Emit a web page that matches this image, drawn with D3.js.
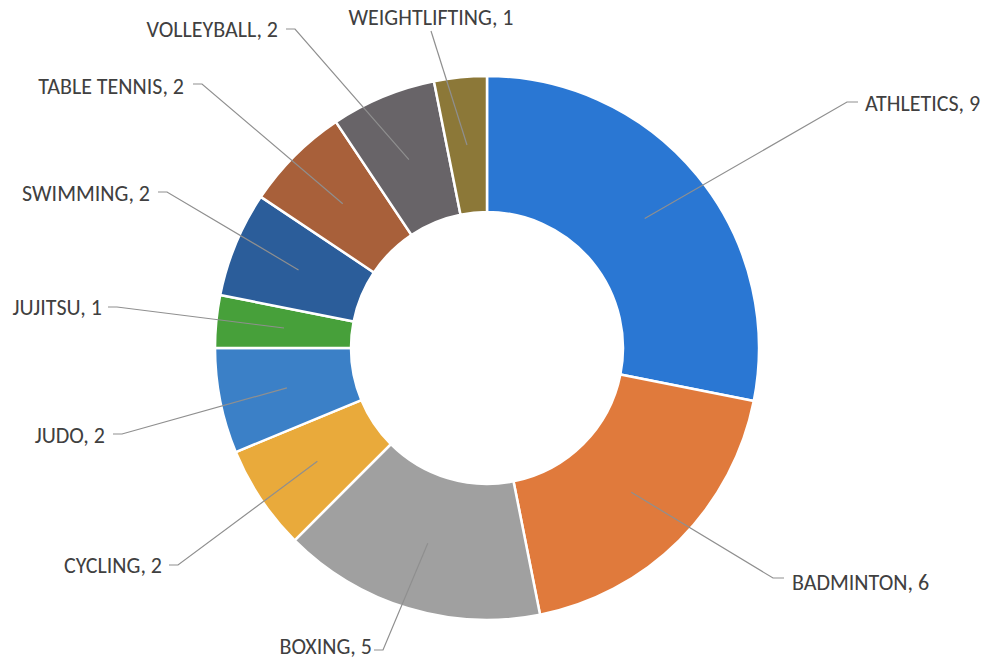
<!DOCTYPE html>
<html>
<head>
<meta charset="utf-8">
<script src="https://cdn.jsdelivr.net/npm/d3@7"></script>
<style>
  html, body { margin: 0; padding: 0; background: #ffffff; }
  svg { display: block; }
  .label { font-family: Carlito, Calibri, "Open Sans", sans-serif; font-size: 22px; fill: #404040; }
</style>
</head>
<body>
<svg id="chart" width="988" height="665"></svg>
<script>
// Athletes per sport
const sports = ["ATHLETICS", "BADMINTON", "BOXING", "CYCLING", "JUDO", "JUJITSU",
                "SWIMMING", "TABLE TENNIS", "VOLLEYBALL", "WEIGHTLIFTING"];
const athletes = [9, 6, 5, 2, 2, 1, 2, 2, 2, 1];

// Slice colours, in sport order
const sliceColors = ["#2a77d3", "#e07a3c", "#a0a0a0", "#e9aa3b", "#3b80c7",
                     "#47a03a", "#2b5d9a", "#a8603a", "#686468", "#8c7838"];

// Label placement: elbow of the leader line, text anchor point and side
const labelLayout = [
  { ex: 847, ey: 102, tx: 865, ty: 103, side: "right" },
  { ex: 773, ey: 578, tx: 792, ty: 582, side: "right" },
  { ex: 383, ey: 650, tx: 372, ty: 646, side: "left" },
  { ex: 178, ey: 565, tx: 162, ty: 565, side: "left" },
  { ex: 122, ey: 434, tx: 105, ty: 435, side: "left" },
  { ex: 117, ey: 307, tx: 102, ty: 307, side: "left" },
  { ex: 167, ey: 192, tx: 150, ty: 193, side: "left" },
  { ex: 202, ey: 84,  tx: 184, ty: 86,  side: "left" },
  { ex: 295, ey: 29,  tx: 278, ty: 29,  side: "left" },
  { ex: 431, ey: 31,  tx: 431, ty: 17,  side: "top" }
];

const cx = 487, cy = 348;
const outerR = 272, innerR = 136, leaderR = 204;

const svg = d3.select("#chart");
const g = svg.append("g").attr("transform", `translate(${cx},${cy})`);

const data = sports.map((s, i) => ({ sport: s, value: athletes[i], index: i }));

const pie = d3.pie().value(d => d.value).sort(null).startAngle(0).endAngle(2 * Math.PI);
const arcs = pie(data);

const arc = d3.arc().innerRadius(innerR).outerRadius(outerR);
const leaderArc = d3.arc().innerRadius(leaderR).outerRadius(leaderR);

const color = d3.scaleOrdinal().domain(sports).range(sliceColors);

g.selectAll("path.slice")
  .data(arcs)
  .join("path")
  .attr("class", "slice")
  .attr("d", arc)
  .attr("fill", d => color(d.data.sport))
  .attr("stroke", "#ffffff")
  .attr("stroke-width", 2.5)
  .attr("stroke-linejoin", "miter");

// Leader lines: from inside the slice to the elbow, then a short horizontal tick
const lines = svg.append("g");
arcs.forEach((d, i) => {
  const L = labelLayout[i];
  const [px, py] = leaderArc.centroid(d);
  const start = [cx + px, cy + py];
  const pts = [start, [L.ex, L.ey]];
  if (L.side === "right") pts.push([L.ex + 11, L.ey]);
  if (L.side === "left") pts.push([L.ex - 9, L.ey]);
  lines.append("path")
    .attr("d", d3.line()(pts))
    .attr("fill", "none")
    .attr("stroke", "#8f8f8f")
    .attr("stroke-width", 1.2);
});

// Data labels
svg.append("g")
  .selectAll("text")
  .data(arcs)
  .join("text")
  .attr("class", "label")
  .attr("x", (d, i) => labelLayout[i].tx)
  .attr("y", (d, i) => labelLayout[i].ty)
  .attr("dy", "0.35em")
  .attr("text-anchor", (d, i) => {
    const s = labelLayout[i].side;
    return s === "right" ? "start" : s === "left" ? "end" : "middle";
  })
  .text(d => `${d.data.sport}, ${d.data.value}`);
</script>
</body>
</html>
